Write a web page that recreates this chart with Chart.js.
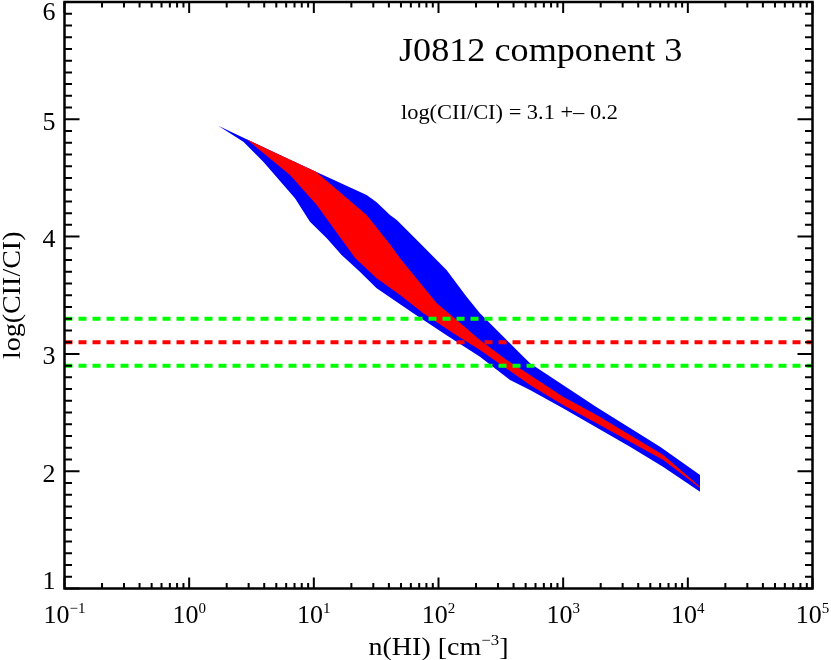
<!DOCTYPE html>
<html>
<head>
<meta charset="utf-8">
<title>J0812 component 3</title>
<script src="https://cdn.jsdelivr.net/npm/chart.js@4.4.1/dist/chart.umd.min.js"></script>
<style>
    html, body { margin: 0; padding: 0; background: #fff; }
    #wrap { width: 831px; height: 660px; }
</style>
</head>
<body>
<div id="wrap"><canvas id="chart" width="831" height="660"></canvas></div>
<script>
// --- Data (x = n(HI) [cm^-3], y = log(CII/CI)) ---
const blueUpperX = [1.71, 2.89, 5.35, 10.4, 26.5, 31.9, 40.8, 46.3, 71.1, 116, 168, 215, 311, 450, 542, 1858, 5985, 12530];
const blueUpperY = [4.945, 4.829, 4.696, 4.553, 4.355, 4.292, 4.184, 4.142, 3.943, 3.715, 3.488, 3.346, 3.176, 3.005, 2.92, 2.546, 2.209, 1.968];
const blueLowerX = [1.71, 2.72, 3.93, 7.06, 9.31, 12.7, 16.7, 23.4, 31.9, 62.8, 116, 215, 375, 542, 998, 3436, 6310, 12530];
const blueLowerY = [4.945, 4.809, 4.639, 4.327, 4.127, 3.986, 3.843, 3.701, 3.559, 3.346, 3.16, 2.976, 2.778, 2.692, 2.536, 2.209, 2.038, 1.825];

const redUpperX = [2.89, 5.35, 10.4, 17.2, 26.5, 40.8, 49.1, 75.5, 96.8, 140, 215, 352, 542, 998, 1858, 3436, 6355, 12530];
const redUpperY = [4.829, 4.696, 4.553, 4.355, 4.184, 3.935, 3.815, 3.573, 3.431, 3.289, 3.119, 2.948, 2.820, 2.635, 2.479, 2.309, 2.138, 1.868];
const redLowerX = [2.89, 6.44, 10.55, 21.5, 31.9, 49.1, 75.5, 131.5, 215, 398, 542, 998, 1858, 3436, 6355, 12530];
const redLowerY = [4.829, 4.525, 4.269, 3.815, 3.644, 3.502, 3.346, 3.176, 3.033, 2.835, 2.735, 2.564, 2.408, 2.251, 2.095, 1.856];

// measured ratio and its error band
const measuredLog = 3.1;
const measuredErr = 0.2;

// axis ranges / tick labels
const xRange = [0.1, 1e5];
const yRange = [1, 6];
const xTickExps = [-1, 0, 1, 2, 3, 4, 5];
const yTickLabels = [1, 2, 3, 4, 5, 6];

const titleText = 'J0812 component 3';
const noteText = 'log(CII/CI) = 3.1 +\u2013 0.2';

const SERIF = '"Liberation Serif", "Times New Roman", serif';

function toPoints(xs, ys) {
    return xs.map((x, i) => ({ x: x, y: ys[i] }));
}

function hLine(value) {
    return [{ x: xRange[0], y: value }, { x: xRange[1], y: value }];
}

// --- Text helpers ---
function stretchText(ctx, str, x, y, sx, align) {
    ctx.save();
    ctx.translate(x, y);
    ctx.scale(sx, 1);
    ctx.textAlign = align;
    ctx.fillText(str, 0, 0);
    ctx.restore();
}

// draws parts like [{t:'10'}, {t:'-1', sup:true}] centred on cx
function richText(ctx, parts, cx, baseY, size, supSize, raise, sx) {
    let total = 0;
    parts.forEach(p => {
        ctx.font = (p.sup ? supSize : size) + 'px ' + SERIF;
        p.w = ctx.measureText(p.t).width * sx;
        total += p.w;
    });
    let left = cx - total / 2;
    parts.forEach(p => {
        ctx.font = (p.sup ? supSize : size) + 'px ' + SERIF;
        stretchText(ctx, p.t, left, p.sup ? baseY - raise : baseY, sx, 'left');
        left += p.w;
    });
}

// --- Axes, ticks and labels (IDL style, ticks inward on all sides) ---
const framePlugin = {
    id: 'frame',
    afterDraw(chart) {
        const ctx = chart.ctx;
        const a = chart.chartArea;
        const xs = chart.scales.x;
        const ys = chart.scales.y;
        ctx.save();
        ctx.strokeStyle = '#000';
        ctx.fillStyle = '#000';
        ctx.textBaseline = 'alphabetic';

        // ticks
        ctx.lineWidth = 2;
        ctx.beginPath();
        for (let i = 0; i <= (yRange[1] - yRange[0]) * 10; i++) {
            const py = ys.getPixelForValue(yRange[0] + i / 10);
            const len = i % 10 === 0 ? 15 : 7.5;
            ctx.moveTo(a.left, py); ctx.lineTo(a.left + len, py);
            ctx.moveTo(a.right, py); ctx.lineTo(a.right - len, py);
        }
        xTickExps.forEach(e => {
            for (let m = 1; m <= 9; m++) {
                const v = m * Math.pow(10, e);
                if (v > xRange[1]) break;
                const px = xs.getPixelForValue(v);
                const len = m === 1 ? 11 : 5.5;
                ctx.moveTo(px, a.bottom); ctx.lineTo(px, a.bottom - len);
                ctx.moveTo(px, a.top); ctx.lineTo(px, a.top + len);
            }
        });
        ctx.stroke();

        // frame
        ctx.lineWidth = 2.5;
        ctx.strokeRect(a.left, a.top, a.right - a.left, a.bottom - a.top);

        // y tick labels
        ctx.font = '26px ' + SERIF;
        ctx.textAlign = 'right';
        yTickLabels.forEach(v => {
            const py = ys.getPixelForValue(v);
            const base = Math.min(Math.max(py + 10.5, a.top + 18), a.bottom);
            ctx.fillText(String(v), 55.5, base);
        });

        // x tick labels 10^n
        xTickExps.forEach(e => {
            const px = xs.getPixelForValue(Math.pow(10, e));
            const exp = e < 0 ? '\u2212' + Math.abs(e) : String(e);
            richText(ctx, [{ t: '10' }, { t: exp, sup: true }], px, 623, 26, 15, 10, 1);
        });

        // axis titles
        const cx = (a.left + a.right) / 2;
        richText(ctx, [{ t: 'n(HI) [cm' }, { t: '\u22123', sup: true }, { t: ']' }], cx, 654.5, 25, 15, 9.5, 1.12);

        ctx.save();
        ctx.translate(19.5, (a.top + a.bottom) / 2);
        ctx.rotate(-Math.PI / 2);
        ctx.font = '25px ' + SERIF;
        stretchText(ctx, 'log(CII/CI)', 0, 0, 1.12, 'center');
        ctx.restore();

        // annotations
        ctx.font = '33.5px ' + SERIF;
        stretchText(ctx, titleText, 399, 61, 1.08, 'left');
        ctx.font = '20px ' + SERIF;
        stretchText(ctx, noteText, 401, 119.3, 1.12, 'left');

        ctx.restore();
    }
};

// --- Chart ---
const ctx = document.getElementById('chart').getContext('2d');
const chart = new Chart(ctx, {
    type: 'line',
    data: {
        datasets: [
            { data: toPoints(blueUpperX, blueUpperY), fill: '+1', backgroundColor: '#0000ff', borderWidth: 0, order: 3 },
            { data: toPoints(blueLowerX, blueLowerY), fill: false, borderWidth: 0, order: 3 },
            { data: toPoints(redUpperX, redUpperY), fill: '+1', backgroundColor: '#ff0000', borderWidth: 0, order: 2 },
            { data: toPoints(redLowerX, redLowerY), fill: false, borderWidth: 0, order: 2 },
            { data: hLine(measuredLog + measuredErr), borderColor: '#00ff00', borderWidth: 4, borderDash: [8, 6], fill: false, order: 1 },
            { data: hLine(measuredLog), borderColor: '#ff0000', borderWidth: 4, borderDash: [8, 6], fill: false, order: 1 },
            { data: hLine(measuredLog - measuredErr), borderColor: '#00ff00', borderWidth: 4, borderDash: [8, 6], fill: false, order: 1 }
        ]
    },
    options: {
        responsive: false,
        animation: false,
        devicePixelRatio: 1,
        events: [],
        layout: { padding: { left: 64.5, top: 2, right: 18.5, bottom: 71.5 } },
        elements: { point: { radius: 0 }, line: { tension: 0 } },
        scales: {
            x: { type: 'logarithmic', min: xRange[0], max: xRange[1], display: false },
            y: { type: 'linear', min: yRange[0], max: yRange[1], display: false }
        },
        plugins: {
            legend: { display: false },
            tooltip: { enabled: false }
        }
    },
    plugins: [framePlugin]
});
</script>
</body>
</html>
